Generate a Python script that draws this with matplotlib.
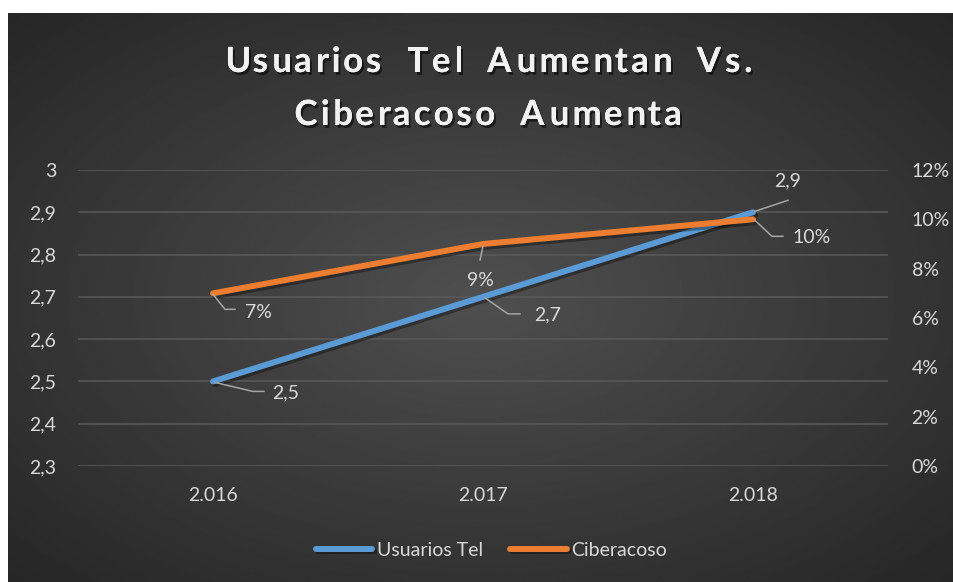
import numpy as np
import matplotlib
matplotlib.use('Agg')
import matplotlib.pyplot as plt
import matplotlib.patheffects as pe
import matplotlib.transforms as mtransforms
from matplotlib import font_manager
from matplotlib.ft2font import FT2Font

# data
years = ['2.016', '2.017', '2.018']
usuarios = [2.5, 2.7, 2.9]
ciberacoso = [0.07, 0.09, 0.10]
usuarios_labels = ['2,5', '2,7', '2,9']
ciber_labels = ['7%', '9%', '10%']
left_ticks = [2.3, 2.4, 2.5, 2.6, 2.7, 2.8, 2.9, 3.0]
left_tick_labels = ['2,3', '2,4', '2,5', '2,6', '2,7', '2,8', '2,9', '3']
right_ticks = [0, 0.02, 0.04, 0.06, 0.08, 0.10, 0.12]
right_tick_labels = ['0%', '2%', '4%', '6%', '8%', '10%', '12%']
title_lines = ['Usuarios  Tel  Aumentan  Vs.', 'Ciberacoso  Aumenta']

W, H = 954, 582
BLUE = '#5B9BD5'
ORANGE = '#ED7D31'
TXT = '#d9d9d9'
FS = 14
plt.rcParams['font.family'] = ['Lato', 'DejaVu Sans']

fig = plt.figure(figsize=(W / 100, H / 100), dpi=100)
fig.patch.set_facecolor('white')

# dark radial gradient background (white strip left and top)
bg = fig.add_axes([8 / W, 0, (W - 8) / W, (H - 13) / H])
yy, xx = np.mgrid[-1:1:300j, -1:1:500j]
r = np.clip(np.sqrt(xx ** 2 + yy ** 2) / 1.414, 0, 1)
shade = 0.31 - 0.16 * r
bg.imshow(shade, cmap='gray', vmin=0, vmax=1, aspect='auto', interpolation='bilinear')
bg.axis('off')

# plot area
ax = fig.add_axes([78 / W, 1 - 466 / H, 810 / W, 296 / H])
ax.patch.set_alpha(0)
ax2 = ax.twinx()
x = np.arange(len(years))

shadow = [pe.SimpleLineShadow(offset=(1.5, -2), shadow_color='black', alpha=0.35), pe.Normal()]
l1, = ax.plot(x, usuarios, color=BLUE, lw=4.3, solid_capstyle='round',
              path_effects=shadow, label='Usuarios Tel', zorder=3)
l2, = ax2.plot(x, ciberacoso, color=ORANGE, lw=4.3, solid_capstyle='round',
               path_effects=shadow, label='Ciberacoso', zorder=3)

ax.set_xlim(-0.5, 2.5)
ax.set_ylim(2.3, 3.0)
ax2.set_ylim(0, 0.12)
ax.set_xticks(x, years)
ax.set_yticks(left_ticks, left_tick_labels)
ax2.set_yticks(right_ticks, right_tick_labels)
ax.grid(axis='y', color='#5a5a5a', lw=1.1)
ax.set_axisbelow(True)
for a in (ax, ax2):
    for s in a.spines.values():
        s.set_visible(False)
ax.tick_params(axis='y', length=0, pad=15.5, labelcolor=TXT, labelsize=FS)
ax.tick_params(axis='x', length=0, pad=15.0, labelcolor=TXT, labelsize=FS)
ax2.tick_params(axis='y', length=0, pad=17.0, labelcolor=TXT, labelsize=FS)


def point_trans(a, xv, yv):
    # pixel offsets (at 100 dpi) anchored at a data point
    return (mtransforms.Affine2D().scale(0.01) + fig.dpi_scale_trans
            + mtransforms.ScaledTranslation(xv, yv, a.transData))


# leader lines and label positions, pixel offsets from each point
blue_leaders = [[(2, -1), (40, -10), (51, -10)],
                [(2, -1), (25, -17), (37, -17)],
                [(2, 1), (35, 12)]]
blue_text = [(73, -11), (65, -18), (35, 31)]
orange_leaders = [[(0, -1), (12, -16), (22, -16)],
                  [(0, -2), (-3, -16)],
                  [(2, -1), (19, -17), (30, -17)]]
orange_text = [(45, -19), (-3, -37), (59, -18)]

for a, vals, labels, leaders, toff in [(ax, usuarios, usuarios_labels, blue_leaders, blue_text),
                                       (ax2, ciberacoso, ciber_labels, orange_leaders, orange_text)]:
    for i, v in enumerate(vals):
        tr = point_trans(a, i, v)
        lx, ly = zip(*leaders[i])
        a.plot(lx, ly, transform=tr, color='#a6a6a6', lw=1.1, zorder=4, clip_on=False)
        a.text(toff[i][0], toff[i][1], labels[i], transform=tr, ha='center', va='center',
               color=TXT, fontsize=FS, zorder=5)

fig.legend(handles=[l1, l2], loc='center', bbox_to_anchor=(491.5 / W, 1 - 550 / H), ncol=2,
           frameon=False, fontsize=FS, handlelength=2.9, handletextpad=0.25,
           columnspacing=1.4, labelcolor=TXT)

# title, bold with wide letter spacing like the original
TS = 25
title_fp = font_manager.FontProperties(family='Lato', weight='bold', size=TS)
ft = FT2Font(font_manager.findfont(title_fp))
ft.set_size(TS, 100)


def metrics(ch):
    g = ft.load_char(ord(ch))
    return g.linearHoriAdvance / 65536, g.horiBearingX / 64


def line_width(line, track):
    return sum(metrics(c)[0] for c in line) + track * (len(line) - 1)


track = (528 - line_width(title_lines[0], 0)) / (len(title_lines[0]) - 1)
title_fx = [pe.withSimplePatchShadow(offset=(1.5, -2), shadow_rgbFace='black', alpha=0.55), pe.Normal()]
for line, base_y in zip(title_lines, [72, 125]):
    xpos = 487 - line_width(line, track) / 2
    for ch in line:
        adv, lsb = metrics(ch)
        if ch != ' ':
            fig.text((xpos + lsb) / W, 1 - base_y / H, ch, fontproperties=title_fp,
                     color='#f2f2f2', ha='left', va='baseline', path_effects=title_fx)
        xpos += adv + track

fig.savefig('out.png', dpi=100, facecolor=fig.get_facecolor())
